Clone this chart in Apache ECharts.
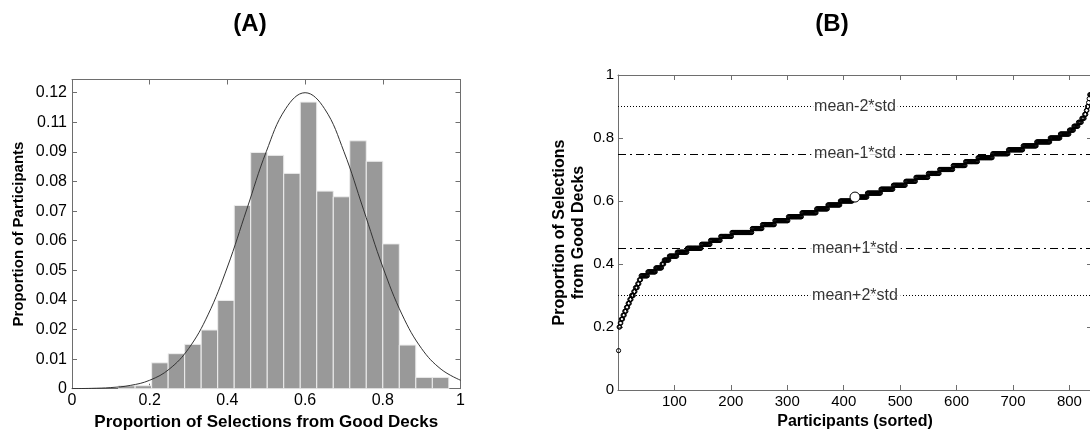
<!DOCTYPE html>
<html>
<head>
<meta charset="utf-8">
<script src="https://cdn.jsdelivr.net/npm/echarts@6/dist/echarts.min.js"></script>
<style>html,body{margin:0;padding:0;background:#fff;overflow:hidden}#c{width:1090px;height:430px}</style>
</head>
<body>
<div id="c"></div>
<script>
// ---- Panel A: histogram ----
var binEdges = [0.12, 0.1625, 0.205, 0.2475, 0.29, 0.3325, 0.375, 0.4175, 0.46, 0.5025, 0.545,
                0.5875, 0.63, 0.6725, 0.715, 0.7575, 0.80, 0.8425, 0.885, 0.9275, 0.97];
var binHeights = [0.0012, 0.0012, 0.0105, 0.0142, 0.018, 0.0238, 0.0358, 0.0743, 0.0958, 0.0946,
                  0.0873, 0.1162, 0.0801, 0.0778, 0.1005, 0.0922, 0.0587, 0.0177, 0.0046, 0.0046];
// fitted curve
var curveX = [0, 0.05, 0.1, 0.15, 0.2, 0.25, 0.3, 0.35, 0.4, 0.45, 0.5, 0.55, 0.6,
              0.65, 0.7, 0.75, 0.8, 0.85, 0.9, 0.95, 1.0];
var curveY = [0.00004, 0.00014, 0.00046, 0.00133, 0.00343, 0.00789, 0.01624, 0.02993, 0.04933,
              0.07278, 0.09608, 0.11352, 0.12, 0.11352, 0.09608, 0.07278, 0.04933, 0.02993,
              0.01624, 0.00789, 0.00343];
var yTickLabelsA = ['0', '0.01', '0.02', '0.04', '0.05', '0.06', '0.07', '0.08', '0.09', '0.11', '0.12'];
var xTickLabelsA = ['0', '0.2', '0.4', '0.6', '0.8', '1'];

// ---- Panel B: sorted participants ----
var sortedLevels = [0.125, 0.2, 0.2125, 0.225, 0.2375, 0.25, 0.2625, 0.275, 0.2875, 0.3, 0.3125,
  0.325, 0.3375, 0.35, 0.3625, 0.375, 0.3875, 0.4, 0.4125, 0.425, 0.4375, 0.45, 0.4625, 0.475,
  0.4875, 0.5, 0.5125, 0.525, 0.5375, 0.55, 0.5625, 0.575, 0.5875, 0.6, 0.6125, 0.625, 0.6375,
  0.65, 0.6625, 0.675, 0.6875, 0.7, 0.7125, 0.725, 0.7375, 0.75, 0.7625, 0.775, 0.7875, 0.8,
  0.8125, 0.825, 0.8375, 0.85, 0.8625, 0.875, 0.8875, 0.9, 0.9125, 0.925, 0.9375];
var levelCounts = [1, 2, 2, 3, 3, 3, 3, 3, 3, 4, 3, 4, 3, 3, 12, 14, 11, 4, 9, 14, 18, 25, 16, 18,
  20, 36, 18, 22, 24, 24, 26, 20, 22, 22, 26, 24, 22, 22, 18, 22, 20, 24, 22, 22, 26, 28, 26, 24,
  24, 18, 16, 8, 8, 6, 5, 3, 2, 2, 1, 1, 5];
var medianPoint = [420, 0.6125];
var refValues = [0.9, 0.75, 0.45, 0.3];
var refLabels = ['mean-2*std', 'mean-1*std', 'mean+1*std', 'mean+2*std'];
var refStyles = ['dot', 'dashdot', 'dashdot', 'dot'];
var refLabelX = 420;

// build tables
var histData = [];
for (var i = 0; i < binHeights.length; i++) histData.push([binEdges[i], binEdges[i + 1], binHeights[i]]);
var curveData = curveX.map(function (x, i) { return [x, curveY[i]]; });
var sortedData = [];
var idx = 1;
for (var j = 0; j < sortedLevels.length; j++) {
  for (var c = 0; c < levelCounts[j]; c++) { sortedData.push([idx, sortedLevels[j]]); idx++; }
}
var refLabelData = refValues.map(function (v, i) { return [refLabelX, v, refLabels[i]]; });

var FONT = 'Liberation Sans, Arial, Helvetica, sans-serif';
var AX = '#6e6e6e';
var stepA = 0.012;

function boxAxis(extra) {
  var base = {
    axisLine: {show: true, onZero: false, lineStyle: {color: AX, width: 1}},
    axisTick: {show: true, inside: true, length: 5, lineStyle: {color: AX}},
    splitLine: {show: false},
    axisLabel: {show: false}
  };
  for (var k in extra) base[k] = extra[k];
  return base;
}

var markLines = refValues.map(function (v, i) {
  return {
    yAxis: v,
    label: {show: false},
    lineStyle: {color: '#000', width: 1, type: refStyles[i] === 'dot' ? [1, 2] : [8, 4, 2, 4]}
  };
});

var titleStyle = {fontFamily: FONT, fontWeight: 'bold', fontSize: 24, color: '#000'};

var chart = echarts.init(document.getElementById('c'), null, {renderer: 'canvas'});
chart.setOption({
  animation: false,
  backgroundColor: '#fff',
  textStyle: {fontFamily: FONT},
  title: [
    {text: '(A)', left: 245, top: 7, textAlign: 'center', textStyle: titleStyle},
    {text: '(B)', left: 827, top: 7, textAlign: 'center', textStyle: titleStyle}
  ],
  grid: [
    {left: 72, top: 79.5, width: 388.5, height: 309.2, containLabel: false, outerBoundsMode: 'none'},
    {left: 618, top: 75, width: 474, height: 315, containLabel: false, outerBoundsMode: 'none'}
  ],
  xAxis: [
    boxAxis({type: 'value', gridIndex: 0, min: 0, max: 1, interval: 0.2, position: 'bottom',
      axisLabel: {show: true, color: '#000', fontSize: 16, margin: 4, fontFamily: FONT,
        formatter: function (v) { return xTickLabelsA[Math.round(v / 0.2)]; }},
      name: 'Proportion of Selections from Good Decks', nameLocation: 'middle', nameGap: 17,
      nameTextStyle: {fontWeight: 'bold', fontSize: 17, color: '#000', fontFamily: FONT}}),
    boxAxis({type: 'value', gridIndex: 0, min: 0, max: 1, interval: 0.2, position: 'top'}),
    boxAxis({type: 'value', gridIndex: 1, min: 0, max: 840, interval: 100, position: 'bottom',
      axisLabel: {show: true, color: '#000', fontSize: 15, margin: 4, showMinLabel: false, showMaxLabel: false, fontFamily: FONT},
      name: 'Participants (sorted)', nameLocation: 'middle', nameGap: 22,
      nameTextStyle: {fontWeight: 'bold', fontSize: 16, color: '#000', fontFamily: FONT}}),
    boxAxis({type: 'value', gridIndex: 1, min: 0, max: 840, interval: 100, position: 'top'})
  ],
  yAxis: [
    boxAxis({type: 'value', gridIndex: 0, min: 0, max: 0.12535, interval: stepA, position: 'left',
      axisLabel: {show: true, color: '#000', fontSize: 16, margin: 5, fontFamily: FONT,
        formatter: function (v) { var n = Math.round(v / stepA); return yTickLabelsA[n] !== undefined ? yTickLabelsA[n] : ''; }},
      name: 'Proportion of Participants', nameLocation: 'middle', nameGap: 46,
      nameTextStyle: {fontWeight: 'bold', fontSize: 15, color: '#000', fontFamily: FONT}}),
    boxAxis({type: 'value', gridIndex: 0, min: 0, max: 0.12535, interval: stepA, position: 'right'}),
    boxAxis({type: 'value', gridIndex: 1, min: 0, max: 1, interval: 0.2, position: 'left',
      axisLabel: {show: true, color: '#000', fontSize: 15, margin: 4, fontFamily: FONT},
      name: 'Proportion of Selections\nfrom Good Decks', nameLocation: 'middle', nameGap: 30,
      nameTextStyle: {fontWeight: 'bold', fontSize: 16, lineHeight: 19, color: '#000', fontFamily: FONT}}),
    boxAxis({type: 'value', gridIndex: 1, min: 0, max: 1, interval: 0.2, position: 'right'})
  ],
  series: [
    {
      type: 'custom', xAxisIndex: 0, yAxisIndex: 0, data: histData,
      renderItem: function (params, api) {
        var p0 = api.coord([api.value(0), api.value(2)]);
        var p1 = api.coord([api.value(1), 0]);
        return {type: 'rect', shape: {x: p0[0], y: p0[1], width: p1[0] - p0[0], height: p1[1] - p0[1]},
                style: {fill: '#999999', stroke: '#eeeeee', lineWidth: 1}};
      },
      encode: {x: [0, 1], y: 2}
    },
    {
      type: 'line', xAxisIndex: 0, yAxisIndex: 0, data: curveData, smooth: 0.4, symbol: 'none',
      lineStyle: {color: '#333', width: 1}, z: 5
    },
    {
      type: 'scatter', xAxisIndex: 2, yAxisIndex: 2, data: [], z: 1, silent: true,
      markLine: {silent: true, symbol: 'none', data: markLines, animation: false, z: 1}
    },
    {
      type: 'scatter', xAxisIndex: 2, yAxisIndex: 2, data: sortedData, symbol: 'circle', symbolSize: 4.2,
      itemStyle: {color: 'rgba(0,0,0,0)', borderColor: '#000', borderWidth: 1, opacity: 1}, z: 3
    },
    {
      type: 'scatter', xAxisIndex: 2, yAxisIndex: 2, data: refLabelData, symbolSize: 0, silent: true,
      label: {show: true, position: 'inside', formatter: function (p) { return p.value[2]; },
              fontFamily: FONT, fontSize: 16, color: '#000', backgroundColor: '#fff', padding: [1, 3]},
      z: 10
    },
    {
      type: 'scatter', xAxisIndex: 2, yAxisIndex: 2, data: [medianPoint], symbol: 'circle', symbolSize: 10,
      itemStyle: {color: '#fff', borderColor: '#000', borderWidth: 1, opacity: 1}, z: 6
    }
  ]
});
</script>
</body>
</html>
